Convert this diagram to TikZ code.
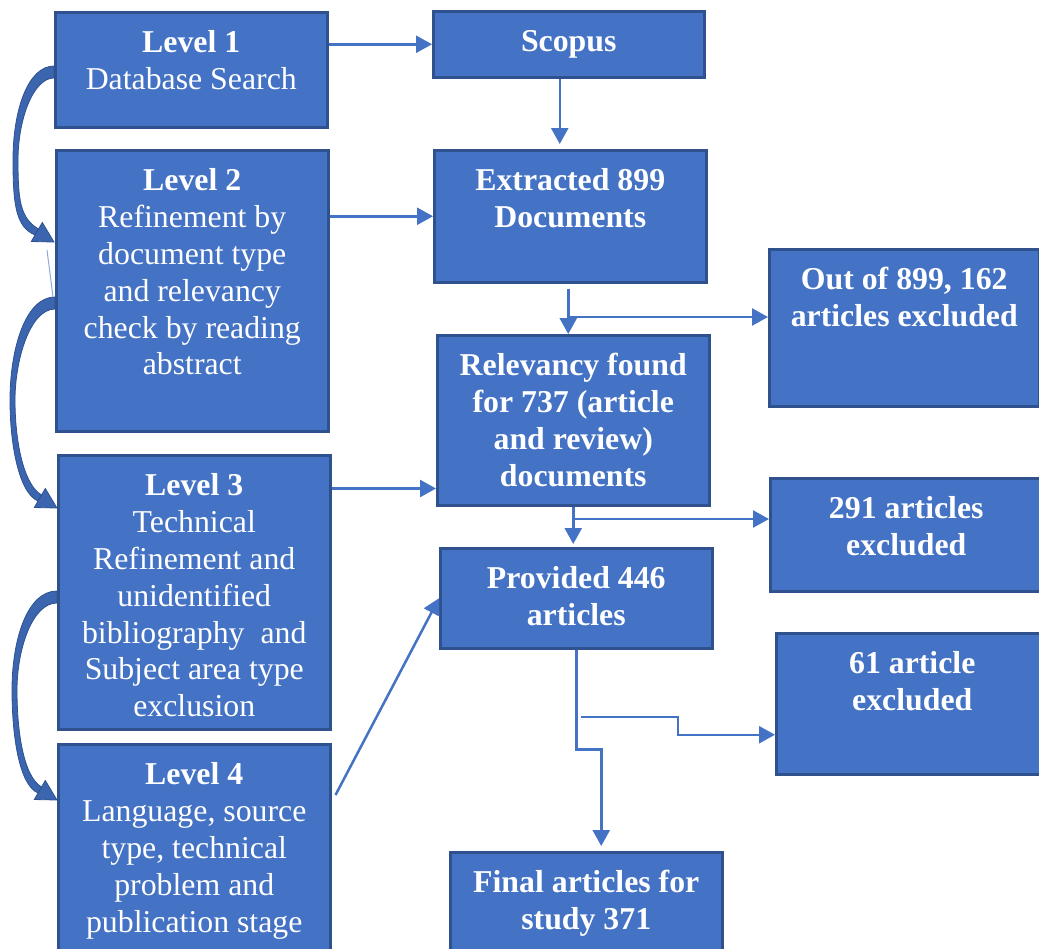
\documentclass[tikz,border=0pt]{standalone}
\usepackage{fontspec}
\setmainfont{Liberation Serif}
\usetikzlibrary{arrows.meta,calc}
\definecolor{boxfill}{HTML}{4472C4}
\definecolor{boxline}{HTML}{2F528F}
\definecolor{arcfill}{HTML}{3B65AF}
\definecolor{faint}{HTML}{8EA9DB}
% curved block arrow: #1 start x, #2 start y, #3 leftmost x, #4 leftmost y, #5 tip x, #6 tip y
\newcommand\crvarrow[6]{%
  \fill[arcfill, draw=boxline, line width=0.8pt]
    (#1,#2-6) .. controls (#3+15,#2-6) and (#3,#4-50) .. (#3,#4)
    .. controls (#3,#4+45) and (#5-38,#6-15) .. (#5-19,#6-7)
    -- (#5-15.5,#6-13)
    .. controls (#5-34,#6-24) and (#3+5,#4+40) .. (#3+5,#4)
    .. controls (#3+5,#4-40) and (#3+20,#2+6) .. (#1,#2+6) -- cycle;
  \fill[arcfill, draw=boxline, line width=0.8pt]
    (#5,#6) -- (#5-22.7,#6-0.5) -- (#5-11.7,#6-19.5) -- cycle;
}
\tikzset{
  box/.style={draw=boxline, fill=boxfill, line width=2.5pt, inner sep=0pt, anchor=north west},
  txt/.style={text=white, font=\fontsize{31.8}{36.8}\selectfont, align=center, anchor=north, inner sep=0pt},
  txtb/.style={txt, font=\fontsize{31.8}{36.8}\selectfont\bfseries},
  arr/.style={draw=boxfill, line width=2.5pt, -{Triangle[length=16pt,width=17pt]}},
}
\begin{document}
\begin{tikzpicture}[x=1pt,y=-1pt]
\useasboundingbox (0,0) rectangle (1039,948);
\clip (0,0) rectangle (1039,948);

% boxes
\node[box, minimum width=272pt, minimum height=115pt] (L1) at (54,11) {};
\node[box, minimum width=271pt, minimum height=66pt] (Sc) at (432,10) {};
\node[box, minimum width=272pt, minimum height=281pt] (L2) at (55,149) {};
\node[box, minimum width=272pt, minimum height=132pt] (Ex) at (433,149) {};
\node[box, minimum width=270pt, minimum height=157pt] (Out) at (768,248) {};
\node[box, minimum width=272pt, minimum height=170pt] (Rel) at (436,334) {};
\node[box, minimum width=272pt, minimum height=274pt] (L3) at (57,454) {};
\node[box, minimum width=272pt, minimum height=113pt] (N291) at (769,477) {};
\node[box, minimum width=272pt, minimum height=100pt] (Prov) at (439,547) {};
\node[box, minimum width=272pt, minimum height=141pt] (N61) at (775,632) {};
\node[box, minimum width=272pt, minimum height=215pt] (L4) at (57,743) {};
\node[box, minimum width=272pt, minimum height=105pt] (Fin) at (449,851) {};

% texts
\node[txt] (L1t) at ([yshift=-16pt]L1.north) {\strut\textbf{Level 1}\\Database Search};
\node[txtb] (Sct) at ([yshift=-16pt]Sc.north) {\strut Scopus};
\node[txt] (L2t) at ([yshift=-16pt]L2.north) {\strut\textbf{Level 2}\\Refinement by\\document type\\and relevancy\\check by reading\\abstract};
\node[txtb] (Ext) at ([yshift=-16pt]Ex.north) {\strut Extracted 899\\Documents};
\node[txtb] (Outt) at ([yshift=-16pt]Out.north) {\strut Out of 899, 162\\articles excluded};
\node[txtb] (Relt) at ([yshift=-16pt]Rel.north) {\strut Relevancy found\\for 737 (article\\and review)\\documents};
\node[txt] (L3t) at ([yshift=-16pt]L3.north) {\strut\textbf{Level 3}\\Technical\\Refinement and\\unidentified\\bibliography~ and\\Subject area type\\exclusion};
\node[txtb] (N291t) at ([yshift=-16pt]N291.north) {\strut 291 articles\\excluded};
\node[txtb] (Provt) at ([yshift=-16pt]Prov.north) {\strut Provided 446\\articles};
\node[txtb] (N61t) at ([yshift=-16pt]N61.north) {\strut 61 article\\excluded};
\node[txt] (L4t) at ([yshift=-16pt]L4.north) {\strut\textbf{Level 4}\\Language, source\\type, technical\\problem and\\publication stage};
\node[txtb] (Fint) at ([yshift=-16pt]Fin.north) {\strut Final articles for\\study 371};

% straight connectors
\draw[arr] (L1.east |- Sc.west) -- (Sc.west);
\draw[arr, shorten >=5pt] ([xshift=-9pt]Sc.south) -- ([xshift=-9pt]Sc.south |- Ex.north);
\draw[arr] (L2.east |- Ex.west) -- (Ex.west);
\draw[arr] ([xshift=-2pt,yshift=-5pt]Ex.south) -- ([xshift=-2pt]Ex.south |- Rel.north);
\coordinate (b1) at (567,317);
\draw[arr] (b1) -- (Out.west |- b1);
\coordinate (r1) at ([yshift=18pt]Rel.south west);
\draw[arr] (L3.east |- r1) -- (r1);
\draw[arr, shorten >=3pt] (Rel.south) -- (Rel.south |- Prov.north);
\coordinate (b2) at (572,519);
\draw[arr] (b2) -- (N291.west |- b2);
\coordinate (s4) at ([xshift=4pt,yshift=-52pt]L4.north east);
\draw[arr] (s4) -- (Prov.west);
\draw[arr, shorten >=5pt] (Prov.south) -- ++(0,100) -| ([xshift=15pt]Fin.north);
\coordinate (b3) at (581,717);
\coordinate (k3) at (678,717);
\coordinate (t61) at ([yshift=-31pt]N61.west);
\draw[arr] (b3) -- (k3) |- (t61);

% curved block arrows on the left
\crvarrow{54}{72}{13}{160}{54}{242}
\crvarrow{55}{303}{10}{400}{57}{508}
\crvarrow{57}{597}{12}{690}{57}{800}
\draw[faint, line width=1pt] (47,250) -- (53,297);
\end{tikzpicture}
\end{document}
